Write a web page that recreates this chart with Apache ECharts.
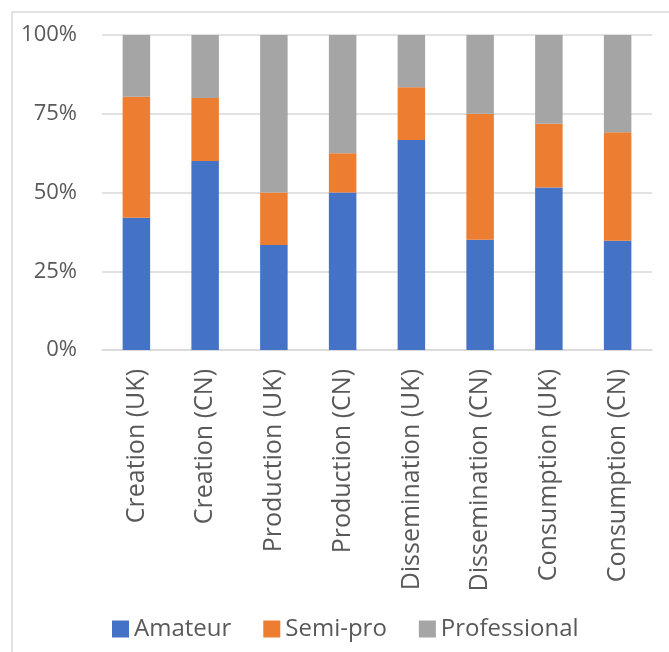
<!DOCTYPE html>
<html>
<head>
<meta charset="utf-8">
<script src="https://cdn.jsdelivr.net/npm/echarts@6/dist/echarts.min.js"></script>
<style>
html,body{margin:0;padding:0;background:#fff;}
#chart{width:669px;height:652px;}
</style>
</head>
<body>
<div id="chart"></div>
<script>
const categories = ['Creation (UK)','Creation (CN)','Production (UK)','Production (CN)','Dissemination (UK)','Dissemination (CN)','Consumption (UK)','Consumption (CN)'];
const amateur = [42, 60, 33.3, 50, 66.7, 35, 51.6, 34.7];
const semipro = [38.4, 20, 16.7, 12.5, 16.7, 40, 20.2, 34.4];
const professional = [19.6, 20, 50, 37.5, 16.6, 25, 28.2, 30.9];
const seriesNames = ['Amateur','Semi-pro','Professional'];
const yTicks = [0, 25, 50, 75, 100];

const chart = echarts.init(document.getElementById('chart'));
const font = '"Open Sans", sans-serif';
const colors = ['#4472C4','#ED7D31','#A5A5A5'];
const dataSets = [amateur, semipro, professional];
chart.setOption({
  animation:false,
  color: colors,
  graphic:[{type:'rect',shape:{x:12,y:12,width:700,height:700},style:{fill:'none',stroke:'#d9d9d9',lineWidth:1.5},silent:true}],
  grid:{left:102,right:17,top:35,bottom:302},
  legend:{
    left:107, top:612, itemWidth:17, itemHeight:17, itemGap:32,
    icon:'rect',
    textStyle:{fontFamily:font,fontSize:24,color:'#595959'},
    data: seriesNames
  },
  xAxis:{
    type:'category', data:categories,
    axisLine:{lineStyle:{color:'#d9d9d9',width:1.5}},
    axisTick:{show:false},
    axisLabel:{rotate:90,margin:19,fontFamily:font,fontSize:25,color:'#595959'}
  },
  yAxis:{
    type:'value', min:yTicks[0], max:yTicks[yTicks.length-1], interval:25,
    axisLine:{show:false}, axisTick:{show:false},
    splitLine:{lineStyle:{color:'#d9d9d9',width:1.5}},
    axisLabel:{margin:25,fontFamily:font,fontSize:22,color:'#595959',formatter:'{value}%'}
  },
  series: seriesNames.map((n,i)=>({
    name:n, type:'bar', stack:'total', barWidth:'40%', data:dataSets[i]
  }))
});
</script>
</body>
</html>
